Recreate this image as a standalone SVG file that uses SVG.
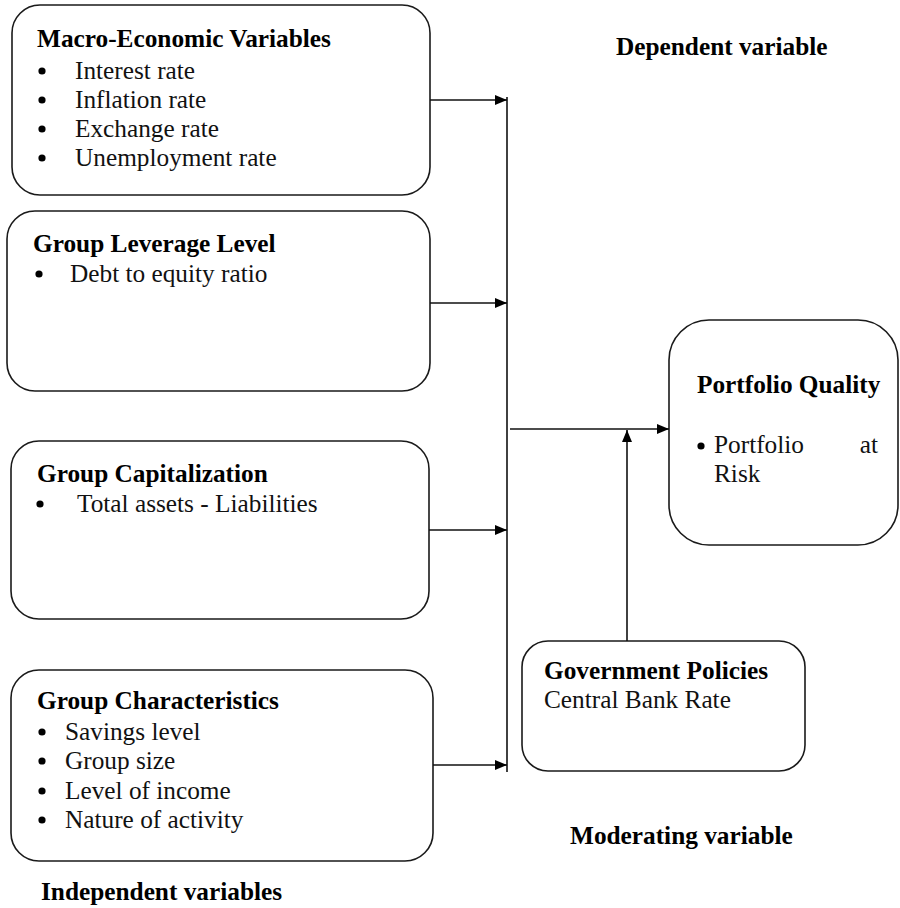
<svg xmlns="http://www.w3.org/2000/svg" width="900" height="908" viewBox="0 0 900 908">
<style>
.box{fill:#fff;stroke:#1a1a1a;stroke-width:1.6}
.t{font-family:"Liberation Serif","Times New Roman",serif;font-size:25.3px;fill:#111}
.b{font-weight:bold;fill:#000}
.ln{stroke:#111;stroke-width:1.6;fill:none}
.dot{fill:#000}
</style>
<defs>
<marker id="ah" markerWidth="12" markerHeight="10" refX="12" refY="5" orient="auto" markerUnits="userSpaceOnUse">
<path d="M0,0 L12,5 L0,10 Z" fill="#000"/>
</marker>
</defs>
<rect width="900" height="908" fill="#fff"/>

<g id="macro">
<rect class="box" x="12" y="5" width="418" height="190" rx="28"/>
<text class="t b" x="37" y="47">Macro-Economic Variables</text>
<circle class="dot" cx="42" cy="71" r="3.6"/>
<text class="t" x="75" y="79">Interest rate</text>
<circle class="dot" cx="42" cy="100" r="3.6"/>
<text class="t" x="75" y="108">Inflation rate</text>
<circle class="dot" cx="42" cy="129" r="3.6"/>
<text class="t" x="75" y="137">Exchange rate</text>
<circle class="dot" cx="42" cy="158" r="3.6"/>
<text class="t" x="75" y="166">Unemployment rate</text>
</g>

<g id="leverage">
<rect class="box" x="7" y="211" width="423" height="180" rx="28"/>
<text class="t b" x="33" y="252">Group Leverage Level</text>
<circle class="dot" cx="39" cy="274" r="3.6"/>
<text class="t" x="70" y="282">Debt to equity ratio</text>
</g>

<g id="capitalization">
<rect class="box" x="11" y="441" width="418" height="178" rx="28"/>
<text class="t b" x="37" y="482">Group Capitalization</text>
<circle class="dot" cx="40" cy="504" r="3.6"/>
<text class="t" x="77" y="512">Total assets - Liabilities</text>
</g>

<g id="characteristics">
<rect class="box" x="11" y="670" width="422" height="191" rx="28"/>
<text class="t b" x="37" y="709">Group Characteristics</text>
<circle class="dot" cx="42" cy="732" r="3.6"/>
<text class="t" x="65" y="740">Savings level</text>
<circle class="dot" cx="42" cy="761" r="3.6"/>
<text class="t" x="65" y="769">Group size</text>
<circle class="dot" cx="42" cy="791" r="3.6"/>
<text class="t" x="65" y="799">Level of income</text>
<circle class="dot" cx="42" cy="820" r="3.6"/>
<text class="t" x="65" y="828">Nature of activity</text>
</g>

<g id="portfolio">
<rect class="box" x="669" y="320" width="229" height="225" rx="40"/>
<text class="t b" x="697" y="393">Portfolio Quality</text>
<circle class="dot" cx="701" cy="446" r="3.6"/>
<text class="t" x="714" y="453">Portfolio</text>
<text class="t" x="878" y="453" text-anchor="end">at</text>
<text class="t" x="714" y="482">Risk</text>
</g>

<g id="government">
<rect class="box" x="522" y="641" width="283" height="130" rx="26"/>
<text class="t b" x="544" y="679">Government Policies</text>
<text class="t" x="544" y="708">Central Bank Rate</text>
</g>

<g id="labels">
<text class="t b" x="616" y="55">Dependent variable</text>
<text class="t b" x="570" y="844">Moderating variable</text>
<text class="t b" x="41" y="900">Independent variables</text>
</g>

<g id="connectors">
<line class="ln" x1="507" y1="97" x2="507" y2="772"/>
<line class="ln" x1="430" y1="100" x2="507" y2="100" marker-end="url(#ah)"/>
<line class="ln" x1="430" y1="303" x2="507" y2="303" marker-end="url(#ah)"/>
<line class="ln" x1="429" y1="530" x2="507" y2="530" marker-end="url(#ah)"/>
<line class="ln" x1="433" y1="765" x2="507" y2="765" marker-end="url(#ah)"/>
<line class="ln" x1="510" y1="429" x2="669" y2="429" marker-end="url(#ah)"/>
<line class="ln" x1="627" y1="641" x2="627" y2="430" marker-end="url(#ah)"/>
</g>
</svg>
